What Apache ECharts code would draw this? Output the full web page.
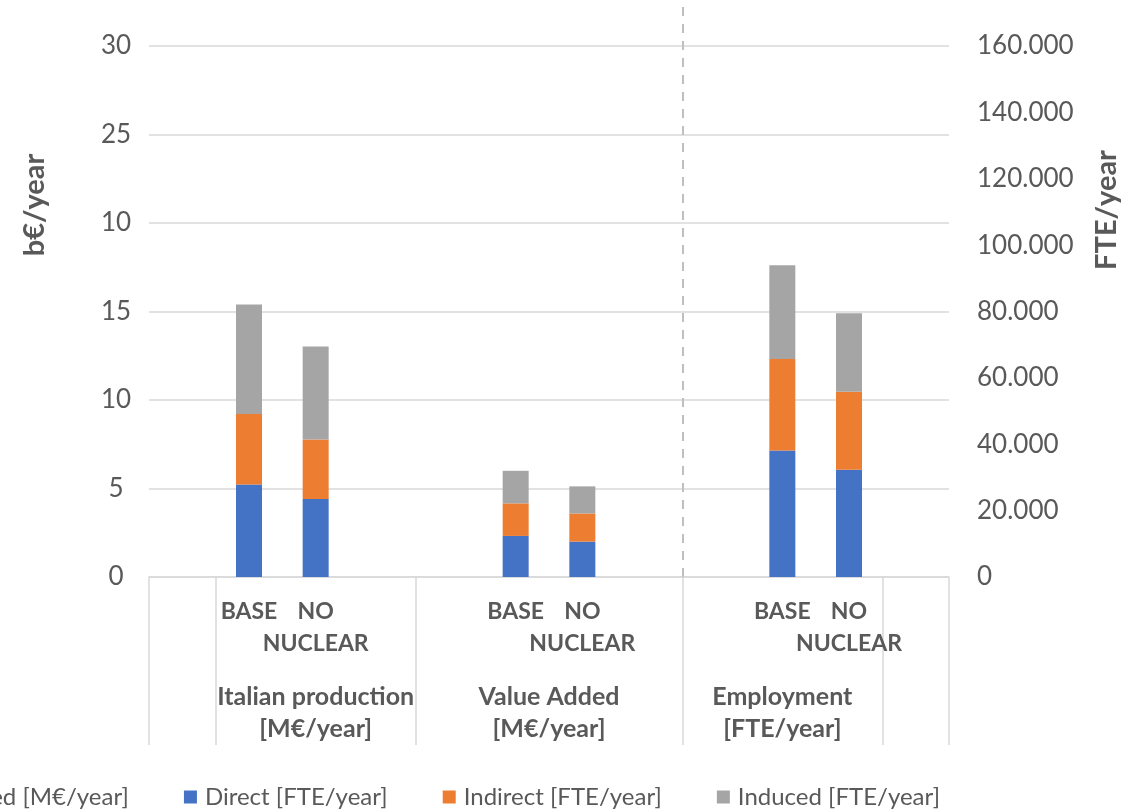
<!DOCTYPE html>
<html>
<head>
<meta charset="utf-8">
<script src="https://cdn.jsdelivr.net/npm/echarts@6/dist/echarts.min.js"></script>
<style>
  html, body { margin: 0; padding: 0; background: #ffffff; }
  #chart { width: 1145px; height: 812px; }
</style>
</head>
<body>
<div id="chart"></div>
<script>
// Twelve category slots; blank slots pad the three groups
const slotLabels = ['', 'BASE', 'NO\nNUCLEAR', '', '', 'BASE', 'NO\nNUCLEAR', '', '', 'BASE', 'NO\nNUCLEAR', ''];

// Group captions and the slot boundaries that frame them
const groupNames = ['Italian production\n[M€/year]', 'Value Added\n[M€/year]', 'Employment\n[FTE/year]'];
const groupCenters = [2.5, 6, 9.5];
const groupEdges = [0, 1, 4, 8, 11, 12];
const dividerAt = 8;

// Monetary impacts, b€/year (left axis)
const directMeur   = [null, 5.23, 4.40, null, null, 2.32, 2.00, null, null, null, null, null];
const indirectMeur = [null, 3.98, 3.37, null, null, 1.84, 1.59, null, null, null, null, null];
const inducedMeur  = [null, 6.19, 5.25, null, null, 1.84, 1.53, null, null, null, null, null];

// Employment impacts, FTE/year (right axis)
const directFte   = [null, null, null, null, null, null, null, null, null, 38100, 32300, null];
const indirectFte = [null, null, null, null, null, null, null, null, null, 27600, 23500, null];
const inducedFte  = [null, null, null, null, null, null, null, null, null, 28200, 23700, null];

// Tick labels
const leftTickLabels  = ['0', '5', '10', '15', '10', '25', '30'];
const rightTickLabels = ['0', '20.000', '40.000', '60.000', '80.000', '100.000', '120.000', '140.000', '160.000'];

const seriesNames = ['Direct [M€/year]', 'Indirect [M€/year]', 'Induced [M€/year]',
                     'Direct [FTE/year]', 'Indirect [FTE/year]', 'Induced [FTE/year]'];
const colors = ['#4472C4', '#ED7D31', '#A5A5A5'];

const FONT = 'Lato';
const TXT = '#595959';
const GRID_LINE = '#d9d9d9';

function barSeries(name, data, color, stack, yAxisIndex) {
  return {
    name: name,
    type: 'bar',
    stack: stack,
    xAxisIndex: 0,
    yAxisIndex: yAxisIndex,
    barWidth: 26,
    barGap: '-100%',
    itemStyle: { color: color },
    data: data
  };
}

const chart = echarts.init(document.getElementById('chart'), null, { renderer: 'canvas' });

chart.setOption({
  animation: false,
  backgroundColor: '#ffffff',
  textStyle: { fontFamily: FONT },
  grid: { left: 149, right: 196, top: 46, bottom: 235, outerBoundsMode: 'none' },
  legend: {
    data: seriesNames,
    right: 205,
    top: 785,
    width: 2400,
    padding: 0,
    itemGap: 55,
    itemWidth: 16,
    itemHeight: 13,
    // 13px square swatch followed by a little extra space before the text
    icon: 'path://M0 0H13V13H0Z M16 13',
    selectedMode: false,
    textStyle: { fontFamily: FONT, fontSize: 24, color: TXT }
  },
  xAxis: [
    {
      type: 'category',
      position: 'bottom',
      data: slotLabels,
      axisLine: { show: true, lineStyle: { color: GRID_LINE, width: 1.5 } },
      axisTick: { show: false },
      splitLine: { show: false },
      axisLabel: {
        interval: 0,
        margin: 19,
        fontFamily: FONT,
        fontSize: 23,
        fontWeight: 'bold',
        lineHeight: 32,
        color: TXT
      }
    },
    {
      type: 'value',
      position: 'bottom',
      min: 0,
      max: 12,
      axisLine: { show: false },
      splitLine: { show: false },
      axisTick: {
        show: true,
        customValues: groupEdges,
        length: 168,
        lineStyle: { color: GRID_LINE, width: 1.5 }
      },
      axisLabel: {
        customValues: groupCenters,
        formatter: function (v) { return groupNames[groupCenters.indexOf(v)] || ''; },
        margin: 104,
        fontFamily: FONT,
        fontSize: 25,
        fontWeight: 'bold',
        lineHeight: 32,
        color: TXT
      }
    }
  ],
  yAxis: [
    {
      type: 'value',
      position: 'left',
      min: 0,
      max: 30,
      interval: 5,
      axisLine: { show: false },
      axisTick: { show: false },
      splitLine: { show: true, lineStyle: { color: GRID_LINE, width: 1.5 } },
      axisLabel: {
        formatter: function (v) { return leftTickLabels[Math.round(v / 5)]; },
        align: 'center',
        margin: 33,
        fontFamily: FONT,
        fontSize: 26,
        color: TXT
      }
    },
    {
      type: 'value',
      position: 'right',
      min: 0,
      max: 160000,
      interval: 20000,
      axisLine: { show: false },
      axisTick: { show: false },
      splitLine: { show: false },
      axisLabel: {
        formatter: function (v) { return rightTickLabels[Math.round(v / 20000)]; },
        align: 'left',
        margin: 28,
        fontFamily: FONT,
        fontSize: 26,
        color: TXT
      }
    }
  ],
  graphic: [
    {
      type: 'text',
      x: 35, y: 205,
      rotation: Math.PI / 2,
      style: { text: 'b€/year', font: 'bold 29px Lato', fill: TXT, align: 'center', verticalAlign: 'middle' }
    },
    {
      type: 'text',
      x: 1107, y: 210,
      rotation: Math.PI / 2,
      style: { text: 'FTE/year', font: 'bold 29px Lato', fill: TXT, align: 'center', verticalAlign: 'middle' }
    }
  ],
  series: [
    barSeries(seriesNames[0], directMeur,   colors[0], 'money', 0),
    barSeries(seriesNames[1], indirectMeur, colors[1], 'money', 0),
    barSeries(seriesNames[2], inducedMeur,  colors[2], 'money', 0),
    barSeries(seriesNames[3], directFte,    colors[0], 'fte', 1),
    barSeries(seriesNames[4], indirectFte,  colors[1], 'fte', 1),
    barSeries(seriesNames[5], inducedFte,   colors[2], 'fte', 1),
    {
      // dashed divider between the monetary groups and employment
      type: 'line',
      xAxisIndex: 1,
      yAxisIndex: 0,
      data: [],
      silent: true,
      markLine: {
        silent: true,
        symbol: 'none',
        label: { show: false },
        lineStyle: { type: [9, 8], color: '#bfbfbf', width: 2 },
        data: [[{ coord: [dividerAt, 0] }, { coord: [dividerAt, 30], y: 0 }]]
      }
    }
  ]
});
</script>
</body>
</html>
